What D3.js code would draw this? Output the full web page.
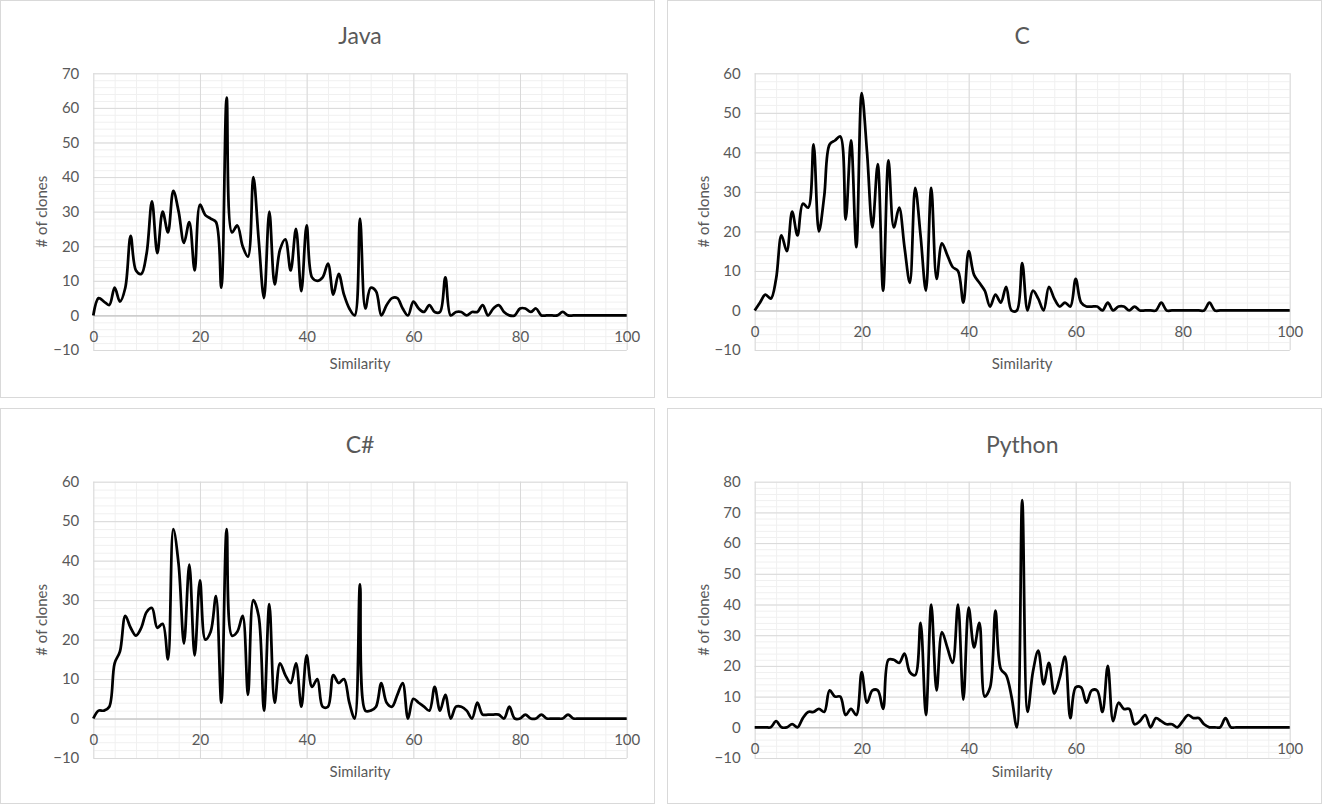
<!DOCTYPE html>
<html>
<head>
<meta charset="utf-8">
<script src="https://cdn.jsdelivr.net/npm/d3@7/dist/d3.min.js"></script>
<style>
  body { margin: 0; background: #fff; }
  svg { display: block; font-family: Lato, "Open Sans", sans-serif; }
</style>
</head>
<body>
<svg id="chart"></svg>
<script>
/*** DEFINE CONSTANTS HERE ***/
WIDTH = 1322;
HEIGHT = 804;

// # of clones per similarity value (0..100)
const javaClones = [
  0, 5, 4, 3, 8, 4, 8, 23, 13, 12,
  18, 33, 18, 30, 24, 36, 30, 21, 27, 13,
  32, 29, 28, 27, 8, 63, 24, 26, 20, 17,
  40, 22, 5, 30, 9, 19, 22, 13, 25, 7,
  26, 11, 10, 11, 15, 6, 12, 6, 2, 0,
  28, 2, 8, 7, 0, 3, 5, 5, 2, 0,
  4, 2, 1, 3, 1, 1, 11, 0, 1, 1,
  0, 1, 1, 3, 0, 2, 3, 1, 0, 0,
  2, 2, 1, 2, 0, 0, 0, 0, 1, 0,
  0, 0, 0, 0, 0, 0, 0, 0, 0, 0,
  0
];

const cClones = [
  0, 2, 4, 3, 8, 19, 15, 25, 19, 27,
  26, 42, 20, 29, 42, 43, 44, 23, 43, 16,
  55, 40, 21, 37, 5, 38, 21, 26, 16, 7,
  31, 19, 5, 31, 8, 17, 14, 11, 10, 2,
  15, 9, 7, 5, 1, 4, 2, 6, 0, 0,
  12, 0, 5, 3, 0, 6, 3, 1, 2, 1,
  8, 2, 1, 1, 1, 0, 2, 0, 1, 1,
  0, 1, 0, 0, 0, 0, 2, 0, 0, 0,
  0, 0, 0, 0, 0, 2, 0, 0, 0, 0,
  0, 0, 0, 0, 0, 0, 0, 0, 0, 0,
  0
];

const csharpClones = [
  0, 2, 2, 3, 14, 17, 26, 23, 21, 23,
  27, 28, 23, 24, 15, 48, 39, 19, 39, 16,
  35, 20, 22, 31, 4, 48, 21, 22, 26, 6,
  30, 26, 2, 29, 4, 14, 11, 9, 14, 3,
  16, 8, 10, 3, 3, 11, 9, 10, 4, 0,
  34, 2, 2, 3, 9, 4, 3, 6, 9, 0,
  5, 4, 3, 2, 8, 2, 6, 0, 3, 3,
  2, 0, 4, 1, 1, 1, 1, 0, 3, 0,
  0, 1, 0, 0, 1, 0, 0, 0, 0, 1,
  0, 0, 0, 0, 0, 0, 0, 0, 0, 0,
  0
];

const pythonClones = [
  0, 0, 0, 0, 2, 0, 0, 1, 0, 3,
  5, 5, 6, 5, 12, 10, 10, 4, 6, 4,
  18, 8, 12, 12, 6, 22, 22, 21, 24, 18,
  17, 34, 4, 40, 12, 31, 26, 21, 40, 9,
  39, 26, 34, 10, 13, 38, 19, 17, 10, 0,
  74, 5, 18, 25, 14, 21, 11, 16, 23, 3,
  13, 13, 8, 12, 12, 5, 20, 2, 8, 6,
  6, 1, 2, 4, 0, 3, 2, 1, 1, 0,
  2, 4, 3, 3, 1, 0, 0, 0, 3, 0,
  0, 0, 0, 0, 0, 0, 0, 0, 0, 0,
  0
];

const xTickLabels = [0, 20, 40, 60, 80, 100];
const chartTitles = ["Java", "C", "C#", "Python"];
const yMaxima = [70, 60, 60, 80];
const seriesList = [javaClones, cClones, csharpClones, pythonClones];

const TEXT_COLOR = "#595959";
const MAJOR_GRID = "#d9d9d9";
const MINOR_GRID = "#f0f0f0";

// layout of the four panels (frame box + plot area)
const panels = [
  {frame: {x: 0.5, y: 0.5, w: 654, h: 397}, plot: {left: 93.3, top: 73.3, width: 533.4, height: 276.7}},
  {frame: {x: 667.5, y: 0.5, w: 654, h: 397}, plot: {left: 754.7, top: 73.3, width: 535, height: 276.7}},
  {frame: {x: 0.5, y: 408.5, w: 654, h: 395}, plot: {left: 93.3, top: 481.7, width: 533.4, height: 276.3}},
  {frame: {x: 667.5, y: 408.5, w: 654, h: 395}, plot: {left: 754.7, top: 481.7, width: 535, height: 276.3}}
];

let svg = d3.select("#chart")
  .attr("width", WIDTH)
  .attr("height", HEIGHT);

svg.append("rect")
  .attr("width", WIDTH)
  .attr("height", HEIGHT)
  .attr("fill", "#fff");

function drawPanel(p, i) {
  const plot = p.plot;
  const values = seriesList[i];
  const yMax = yMaxima[i];

  const x = d3.scaleLinear()
    .domain([0, 100])
    .range([plot.left, plot.left + plot.width]);

  const y = d3.scaleLinear()
    .domain([-10, yMax])
    .range([plot.top + plot.height, plot.top]);

  const g = svg.append("g");

  // frame
  g.append("rect")
    .attr("x", p.frame.x)
    .attr("y", p.frame.y)
    .attr("width", p.frame.w)
    .attr("height", p.frame.h)
    .attr("fill", "none")
    .attr("stroke", MAJOR_GRID);

  // minor gridlines
  g.append("g")
    .attr("transform", `translate(${plot.left},0)`)
    .call(d3.axisLeft(y).tickValues(d3.range(-10, yMax + 1, 2)).tickSize(-plot.width).tickFormat(""))
    .call(a => a.select(".domain").remove())
    .call(a => a.selectAll("line").attr("stroke", MINOR_GRID));

  g.append("g")
    .attr("transform", `translate(0,${plot.top + plot.height})`)
    .call(d3.axisBottom(x).tickValues(d3.range(0, 101, 4)).tickSize(-plot.height).tickFormat(""))
    .call(a => a.select(".domain").remove())
    .call(a => a.selectAll("line").attr("stroke", MINOR_GRID));

  // major gridlines
  g.append("g")
    .attr("transform", `translate(${plot.left},0)`)
    .call(d3.axisLeft(y).tickValues(d3.range(-10, yMax + 1, 10)).tickSize(-plot.width).tickFormat(""))
    .call(a => a.select(".domain").remove())
    .call(a => a.selectAll("line").attr("stroke", MAJOR_GRID));

  g.append("g")
    .attr("transform", `translate(0,${plot.top + plot.height})`)
    .call(d3.axisBottom(x).tickValues(xTickLabels).tickSize(-plot.height).tickFormat(""))
    .call(a => a.select(".domain").remove())
    .call(a => a.selectAll("line").attr("stroke", MAJOR_GRID));

  // y tick labels
  g.append("g")
    .attr("transform", `translate(${plot.left},0)`)
    .call(d3.axisLeft(y).tickValues(d3.range(-10, yMax + 1, 10)).tickSize(0).tickPadding(14))
    .call(a => a.select(".domain").remove())
    .call(a => a.selectAll("text").attr("fill", TEXT_COLOR).style("font-size", "15px").style("font-family", "Lato, sans-serif"));

  // x axis at zero with labels
  g.append("g")
    .attr("transform", `translate(0,${y(0)})`)
    .call(d3.axisBottom(x).tickValues(xTickLabels).tickSize(0).tickPadding(16))
    .call(a => a.select(".domain").attr("stroke", "#bfbfbf"))
    .call(a => a.selectAll("text").attr("fill", TEXT_COLOR).style("font-size", "15px").style("font-family", "Lato, sans-serif"));

  // the series (centripetal Catmull-Rom keeps the dips near zero)
  const line = d3.line()
    .x((d, k) => x(k))
    .y(d => y(d))
    .curve(d3.curveCatmullRom.alpha(0.5));

  g.append("path")
    .datum(values)
    .attr("fill", "none")
    .attr("stroke", "#000")
    .attr("stroke-width", 2.75)
    .attr("stroke-linejoin", "round")
    .attr("d", line);

  // titles
  const cx = plot.left + plot.width / 2;

  g.append("text")
    .attr("x", cx)
    .attr("y", plot.top - 29)
    .attr("text-anchor", "middle")
    .attr("fill", TEXT_COLOR)
    .style("font-size", "23px")
    .text(chartTitles[i]);

  g.append("text")
    .attr("x", cx)
    .attr("y", plot.top + plot.height + 19)
    .attr("text-anchor", "middle")
    .attr("fill", TEXT_COLOR)
    .style("font-size", "15px")
    .text("Similarity");

  g.append("text")
    .attr("transform", rotate(plot.left - 46, plot.top + plot.height / 2, -90))
    .attr("text-anchor", "middle")
    .attr("fill", TEXT_COLOR)
    .style("font-size", "15px")
    .text("# of clones");
}

function rotate(x, y, r) {
  return `translate(${x},${y}) rotate(${r})`;
}

panels.forEach(drawPanel);
</script>
</body>
</html>
